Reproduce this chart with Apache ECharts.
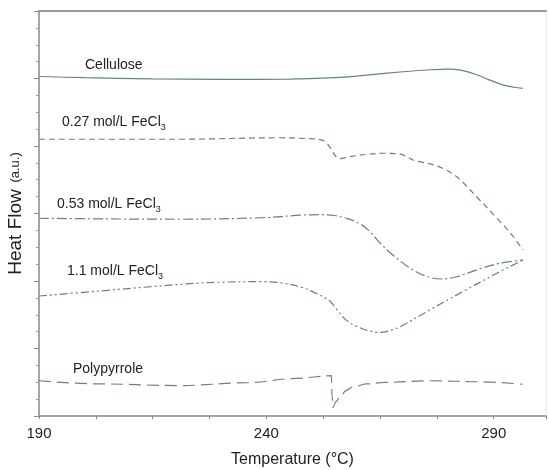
<!DOCTYPE html>
<html lang="en" style="height: 100%;margin: 0;">
<head>
    <meta charset="UTF-8">
    <title>DSC chart</title>
</head>
<body style="height: 100%;margin: 0;background: #fff;">
<div id="chart" style="width: 549px;height: 470px;margin: 0;"></div>
<script src="https://cdn.jsdelivr.net/npm/echarts@6/dist/echarts.min.js"></script>
<script>
    // [temperature, heat flow (a.u.)]
    var cellulose = [
        [190, 20.12], [200, 20.05], [215, 19.98], [230, 19.95], [245, 19.96], [255, 20.05],
        [262, 20.2], [270, 20.4], [276, 20.52], [280, 20.56], [283, 20.48], [286, 20.25],
        [289, 19.92], [292, 19.62], [294.5, 19.48], [296.4, 19.41]
    ];
    var fecl027 = [
        [190, 16.4], [221, 16.4], [243, 16.49], [248, 16.45], [251.5, 16.4], [253, 16.25],
        [254.3, 15.8], [255.2, 15.4], [256, 15.25], [258.4, 15.37], [262, 15.5], [266, 15.57],
        [269.5, 15.52], [271, 15.35], [272.3, 15.17], [276.6, 14.9], [279, 14.65], [281, 14.35],
        [283.2, 13.85], [286.9, 12.8], [290.7, 11.73], [294.2, 10.67], [296.4, 9.84]
    ];
    var fecl053 = [
        [190, 11.72], [205, 11.68], [221, 11.66], [239.2, 11.75], [247.4, 11.9], [252, 11.93],
        [255, 11.88], [258, 11.68], [260.5, 11.4], [262.5, 11.0], [265, 10.25], [268, 9.5],
        [272, 8.7], [275.5, 8.25], [278.5, 8.12], [281.9, 8.25], [286.9, 8.72], [291.3, 9.05],
        [296.4, 9.24]
    ];
    var fecl11 = [
        [190, 7.11], [203.4, 7.41], [221, 7.8], [230, 7.93], [239.2, 7.96], [244, 7.86],
        [248, 7.6], [251.5, 7.2], [254, 6.8], [255.5, 6.3], [257.7, 5.65], [260, 5.3],
        [262.5, 5.05], [265, 4.95], [267, 5.05], [269.5, 5.3], [275.9, 6.28], [283.2, 7.37],
        [290.7, 8.46], [296.4, 9.24]
    ];
    var polypyrrole = [
        [190, 2.09], [203.4, 1.9], [221, 1.8], [235.7, 1.97], [246.7, 2.23], [254.3, 2.39],
        [254.45, 1.2], [254.65, 0.5], [255.3, 0.85], [256.2, 1.12], [257.5, 1.5], [259, 1.72],
        [262, 1.9], [266, 1.99], [275.9, 2.09], [286.9, 2.03], [296.4, 1.88]
    ];
    var xLabels = [190, 240, 290];

    var lineColor = '#62896a';
    var font = 'Liberation Sans, Arial, sans-serif';

    var myChart = echarts.init(document.getElementById('chart'), null, {renderer: 'canvas'});

    function makeSeries(name, data, dash, monotone) {
        return {
            name: name,
            type: 'line',
            data: data,
            showSymbol: false,
            smooth: 0.35,
            smoothMonotone: monotone ? 'x' : null,
            lineStyle: {color: lineColor, width: 1.2, type: dash},
            animation: false
        };
    }

    function label(text, x, y) {
        return {
            type: 'text',
            left: x,
            top: y,
            style: {
                text: text,
                fill: '#222',
                font: '14px ' + font,
                rich: {
                    a: {fontSize: 14, fontFamily: font, fill: '#222'},
                    s: {fontSize: 9, fontFamily: font, fill: '#222', lineHeight: 20, verticalAlign: 'bottom'}
                }
            }
        };
    }

    var option = {
        animation: false,
        grid: {left: 39, top: 11, right: 3, bottom: 54, outerBoundsMode: 'none', containLabel: false},
        xAxis: [{
            type: 'value',
            min: 190,
            max: 301.5,
            interval: 12.5,
            name: 'Temperature (°C)',
            nameLocation: 'middle',
            nameGap: 36,
            nameTextStyle: {fontSize: 16, color: '#222', fontFamily: font},
            axisLine: {show: true, lineStyle: {color: '#888', width: 1.5}},
            axisTick: {
                length: 3,
                lineStyle: {color: '#888'},
                interval: function (index, value) {
                    return value < 301;
                }
            },
            axisLabel: {
                fontSize: 15,
                color: '#222',
                fontFamily: font,
                margin: 10,
                formatter: function (v) {
                    return xLabels.indexOf(v) >= 0 ? String(v) : '';
                }
            },
            splitLine: {show: false}
        }, {
            type: 'value',
            position: 'top',
            min: 190,
            max: 301.5,
            axisLine: {show: true, onZero: false, lineStyle: {color: '#999', width: 2}},
            axisTick: {show: false},
            axisLabel: {show: false},
            splitLine: {show: false}
        }],
        yAxis: [{
            type: 'value',
            min: 0,
            max: 24,
            interval: 4,
            name: '{a|Heat Flow}  {b|(a.u.)}',
            nameLocation: 'middle',
            nameGap: 14,
            nameRotate: 90,
            nameTextStyle: {
                color: '#222',
                rich: {
                    a: {fontSize: 19, fontFamily: font, color: '#222'},
                    b: {fontSize: 13, fontFamily: font, color: '#222'}
                }
            },
            axisLine: {show: true, lineStyle: {color: '#888', width: 1.5}},
            axisTick: {show: true, length: 5, lineStyle: {color: '#888'}},
            minorTick: {show: true, splitNumber: 4, length: 3, lineStyle: {color: '#999'}},
            axisLabel: {show: false},
            splitLine: {show: false}
        }, {
            type: 'value',
            position: 'right',
            min: 0,
            max: 24,
            axisLine: {show: true, onZero: false, lineStyle: {color: '#eee', width: 1}},
            axisTick: {show: false},
            axisLabel: {show: false},
            splitLine: {show: false}
        }],
        series: [
            makeSeries('Cellulose', cellulose, 'solid'),
            makeSeries('0.27 mol/L FeCl3', fecl027, [6, 4]),
            makeSeries('0.53 mol/L FeCl3', fecl053, [10, 3, 2, 3]),
            makeSeries('1.1 mol/L FeCl3', fecl11, [8, 3, 2, 3, 2, 3]),
            makeSeries('Polypyrrole', polypyrrole, [12, 6], true)
        ],
        graphic: [
            label('{a|Cellulose}', 85, 58),
            label('{a|0.27 mol/L FeCl}{s|3}', 62, 115),
            label('{a|0.53 mol/L FeCl}{s|3}', 57, 197),
            label('{a|1.1 mol/L FeCl}{s|3}', 67, 264),
            label('{a|Polypyrrole}', 73, 362)
        ]
    };

    myChart.setOption(option, true);
</script>
</body>
</html>
